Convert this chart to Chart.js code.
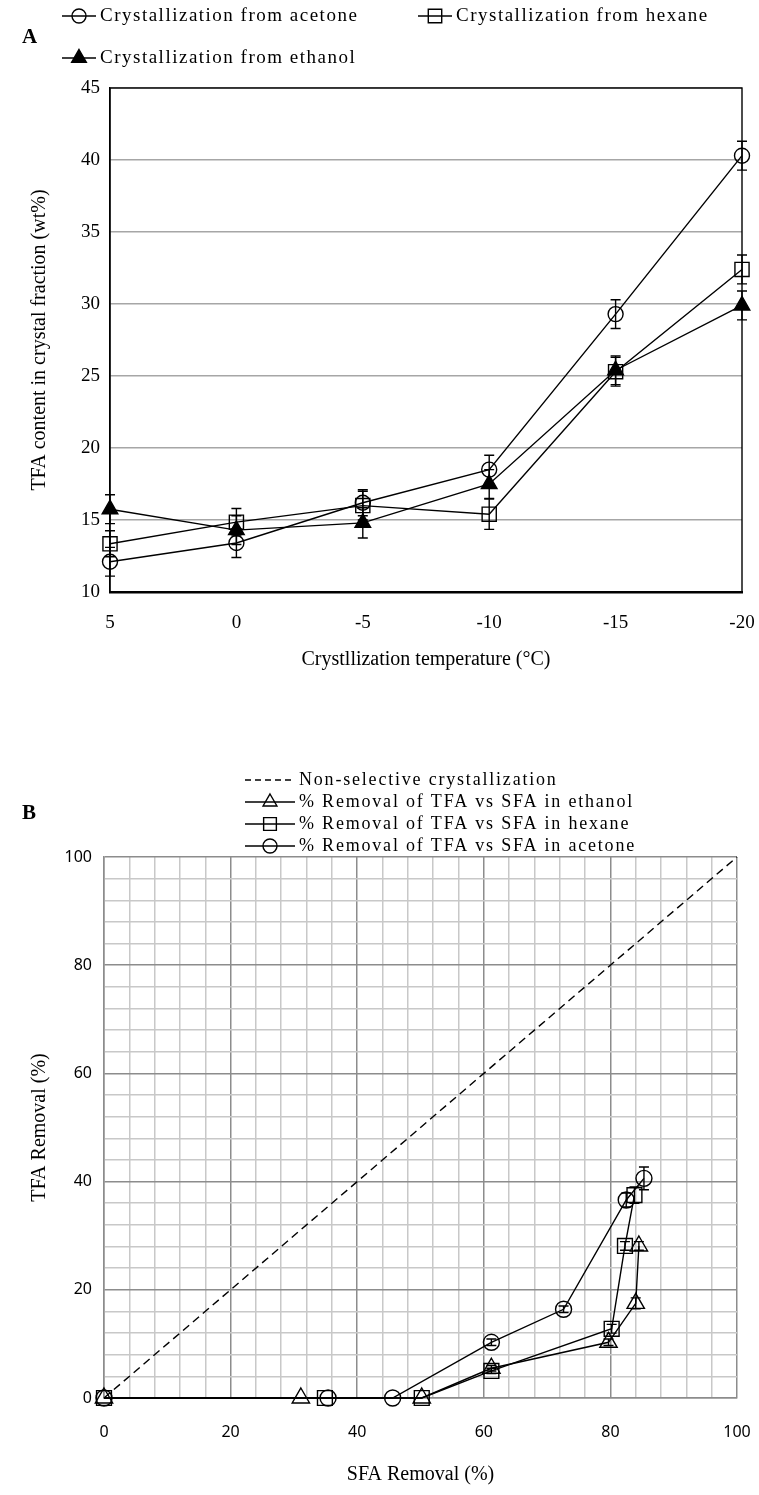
<!DOCTYPE html>
<html lang="en">
<head>
<meta charset="UTF-8">
<title>TFA crystallization</title>
<script src="https://cdn.jsdelivr.net/npm/chart.js@4.4.0/dist/chart.umd.min.js"></script>
<style>
  body { margin: 0; background: #fff; width: 759px; height: 1495px; position: relative; overflow: hidden; }
  .box { position: absolute; left: 0; width: 759px; }
  #boxA { top: 0; height: 700px; }
  #boxB { top: 740px; height: 755px; }
</style>
</head>
<body>
<div class="box" id="boxA"><canvas id="chartA"></canvas></div>
<div class="box" id="boxB"><canvas id="chartB"></canvas></div>
<script>
// panel A: TFA content vs crystallization temperature
const tempLabels = ['5', '0', '-5', '-10', '-15', '-20'];
const acetoneTFA = [12.1, 13.4, 16.2, 18.5, 29.3, 40.3];
const acetoneErr = [1.0, 1.0, 0.9, 1.0, 1.0, 1.0];
const hexaneTFA = [13.35, 14.85, 16.0, 15.4, 25.3, 32.4];
const hexaneErr = [0.9, 0.95, 1.0, 1.05, 1.0, 1.0];
const ethanolTFA = [15.75, 14.3, 14.8, 17.5, 25.4, 29.9];
const ethanolErr = [1.0, 1.0, 1.05, 1.0, 1.0, 1.0];

// panel B: TFA removal vs SFA removal
const nonSelX = [0, 100];
const nonSelY = [0, 100];
const ethanolSFA = [0, 31.1, 50.2, 61.2, 79.7, 84.0, 84.5];
const ethanolRem = [0, 0, 0, 5.5, 10.3, 17.5, 28.1];
const ethanolRemErr = [0, 0, 0, 0.5, 0.6, 1.0, 0.8];
const hexaneSFA = [0, 34.9, 50.2, 61.2, 80.2, 82.3, 83.8];
const hexaneRem = [0, 0, 0, 5.0, 12.8, 28.1, 37.5];
const hexaneRemErr = [0, 0, 0, 0.5, 0.8, 0.8, 1.5];
const acetoneSFA = [0, 35.4, 45.6, 61.2, 72.6, 82.5, 85.3];
const acetoneRem = [0, 0, 0, 10.3, 16.4, 36.6, 40.6];
const acetoneRemErr = [0, 0, 0, 0.6, 0.6, 1.3, 2.1];

const serif = "'Liberation Serif', 'Times New Roman', serif";
const sans = "'Noto Sans', 'Open Sans', sans-serif";

function drawMarker(ctx, style, x, y, r, filled) {
  ctx.beginPath();
  if (style === 'circle') {
    ctx.arc(x, y, r, 0, Math.PI * 2);
  } else if (style === 'rect') {
    const s = r * Math.SQRT1_2;
    ctx.rect(x - s, y - s, 2 * s, 2 * s);
  } else if (style === 'triangle') {
    ctx.moveTo(x, y - r);
    ctx.lineTo(x + r * 0.866, y + r / 2);
    ctx.lineTo(x - r * 0.866, y + r / 2);
    ctx.closePath();
  }
  if (filled) ctx.fill();
  ctx.stroke();
}

// vertical error bars from dataset.errors
const errorBars = {
  id: 'errorBars',
  afterDatasetsDraw(chart) {
    const ctx = chart.ctx;
    const yScale = chart.scales.y;
    chart.data.datasets.forEach((ds, i) => {
      if (!ds.errors) return;
      const meta = chart.getDatasetMeta(i);
      ctx.save();
      ctx.strokeStyle = '#000';
      ctx.lineWidth = 1.4;
      meta.data.forEach((pt, j) => {
        const e = ds.errors[j];
        if (!e) return;
        const v = meta.controller.getParsed(j).y;
        const y1 = yScale.getPixelForValue(v + e);
        const y2 = yScale.getPixelForValue(v - e);
        const cap = 5;
        ctx.beginPath();
        ctx.moveTo(pt.x, y1); ctx.lineTo(pt.x, y2);
        ctx.moveTo(pt.x - cap, y1); ctx.lineTo(pt.x + cap, y1);
        ctx.moveTo(pt.x - cap, y2); ctx.lineTo(pt.x + cap, y2);
        ctx.stroke();
      });
      ctx.restore();
    });
  }
};

// black box round the plot area
const frame = {
  id: 'frame',
  afterDraw(chart, args, opts) {
    if (!opts.color) return;
    const a = chart.chartArea;
    const ctx = chart.ctx;
    ctx.save();
    ctx.strokeStyle = opts.color;
    ctx.lineWidth = opts.width || 1;
    ctx.strokeRect(a.left, a.top, a.right - a.left, a.bottom - a.top);
    ctx.restore();
  }
};

// legend rows: short line with the marker, then the text
const rowLegend = {
  id: 'rowLegend',
  afterDraw(chart, args, opts) {
    if (!opts.items) return;
    const ctx = chart.ctx;
    ctx.save();
    ctx.font = opts.font;
    ctx.letterSpacing = opts.spacing || '0px';
    ctx.textBaseline = 'middle';
    ctx.fillStyle = '#000';
    ctx.strokeStyle = '#000';
    opts.items.forEach(it => {
      ctx.lineWidth = 1.4;
      ctx.setLineDash(it.dash || []);
      ctx.beginPath();
      ctx.moveTo(it.x, it.y);
      ctx.lineTo(it.x + it.len, it.y);
      ctx.stroke();
      ctx.setLineDash([]);
      if (it.style) drawMarker(ctx, it.style, it.x + it.len / 2, it.y, it.r, it.filled);
      ctx.fillText(it.text, it.x + it.len + 4, it.y);
    });
    if (opts.tag) {
      ctx.letterSpacing = '0px';
      ctx.font = 'bold 21px ' + serif;
      ctx.fillText(opts.tag.text, opts.tag.x, opts.tag.y);
    }
    ctx.restore();
  }
};

function series(label, data, errors, style, r, filled) {
  return {
    label: label,
    data: data,
    errors: errors,
    borderColor: '#000',
    borderWidth: 1.4,
    pointStyle: style,
    pointRadius: r,
    pointBorderColor: '#000',
    pointBorderWidth: 1.4,
    pointBackgroundColor: filled ? '#000' : 'rgba(0,0,0,0)',
    showLine: true,
    tension: 0,
    clip: false
  };
}

new Chart(document.getElementById('chartA'), {
  type: 'line',
  data: {
    labels: tempLabels,
    datasets: [
      series('Crystallization from acetone', acetoneTFA, acetoneErr, 'circle', 7.5, false),
      series('Crystallization from hexane', hexaneTFA, hexaneErr, 'rect', 10, false),
      series('Crystallization from ethanol', ethanolTFA, ethanolErr, 'triangle', 9, true)
    ]
  },
  options: {
    responsive: true,
    maintainAspectRatio: false,
    animation: false,
    layout: { padding: { top: 88, right: 17, left: 0, bottom: 0 } },
    plugins: {
      legend: { display: false },
      tooltip: { enabled: false },
      frame: { color: '#000', width: 1.4 },
      rowLegend: {
        font: '19px ' + serif,
        spacing: '1.5px',
        tag: { text: 'A', x: 22, y: 38 },
        items: [
          { x: 62, y: 16, len: 34, style: 'circle', r: 7, text: 'Crystallization from acetone' },
          { x: 418, y: 16, len: 34, style: 'rect', r: 9.5, text: 'Crystallization from hexane' },
          { x: 62, y: 58, len: 34, style: 'triangle', r: 8.5, filled: true, text: 'Crystallization from ethanol' }
        ]
      }
    },
    scales: {
      x: {
        type: 'category',
        offset: false,
        grid: { drawOnChartArea: false, drawTicks: true, tickLength: 20, tickColor: 'rgba(0,0,0,0)' },
        border: { color: '#000', width: 2.5 },
        ticks: { color: '#000', font: { family: serif, size: 19 }, padding: 0 },
        title: {
          display: true, text: 'Crystllization temperature (°C)', color: '#000',
          font: { family: serif, size: 20 }, padding: { top: 0, bottom: 28 }
        },
        afterFit(s) { s.height = 108; }
      },
      y: {
        min: 10,
        max: 45,
        ticks: { stepSize: 5, color: '#000', font: { family: serif, size: 19 }, padding: 10 },
        grid: { color: '#a6a6a6', lineWidth: 1.5, drawTicks: false },
        border: { color: '#000', width: 1.4 },
        title: {
          display: true, text: 'TFA content in crystal fraction (wt%)', color: '#000',
          font: { family: serif, size: 20 }, padding: { top: 28, bottom: 0 }
        },
        afterFit(s) { s.width = 110; }
      }
    }
  },
  plugins: [errorBars, frame, rowLegend]
});

function pts(xs, ys) {
  return xs.map((x, i) => ({ x: x, y: ys[i] }));
}

const minorGrid = (ctx) => (ctx.tick && ctx.tick.value % 20 === 0) ? '#8c8c8c' : '#c8c8c8';

new Chart(document.getElementById('chartB'), {
  type: 'scatter',
  data: {
    datasets: [
      {
        label: 'Non-selective crystallization',
        data: pts(nonSelX, nonSelY),
        borderColor: '#000',
        borderWidth: 1.4,
        borderDash: [8, 5],
        pointRadius: 0,
        showLine: true,
        clip: false
      },
      series('% Removal of TFA vs SFA in ethanol', pts(ethanolSFA, ethanolRem), ethanolRemErr, 'triangle', 10, false),
      series('% Removal of TFA vs SFA in hexane', pts(hexaneSFA, hexaneRem), hexaneRemErr, 'rect', 10.5, false),
      series('% Removal of TFA vs SFA in acetone', pts(acetoneSFA, acetoneRem), acetoneRemErr, 'circle', 8, false)
    ]
  },
  options: {
    responsive: true,
    maintainAspectRatio: false,
    animation: false,
    layout: { padding: { top: 117, right: 22, left: 0, bottom: 0 } },
    plugins: {
      legend: { display: false },
      tooltip: { enabled: false },
      rowLegend: {
        font: '18px ' + serif,
        spacing: '1.8px',
        tag: { text: 'B', x: 22, y: 74 },
        items: [
          { x: 245, y: 40, len: 50, dash: [6, 4], text: 'Non-selective crystallization' },
          { x: 245, y: 62, len: 50, style: 'triangle', r: 8, text: '% Removal of TFA vs SFA in ethanol' },
          { x: 245, y: 84, len: 50, style: 'rect', r: 9, text: '% Removal of TFA vs SFA in hexane' },
          { x: 245, y: 106, len: 50, style: 'circle', r: 7, text: '% Removal of TFA vs SFA in acetone' }
        ]
      }
    },
    scales: {
      x: {
        type: 'linear',
        min: 0,
        max: 100,
        ticks: {
          stepSize: 4, autoSkip: false, maxRotation: 0, color: '#000', padding: 0,
          font: { family: sans, size: 16 },
          callback: (v) => (v % 20 === 0 ? v : '')
        },
        grid: { color: minorGrid, lineWidth: 1.5, drawTicks: true, tickLength: 25, tickColor: 'rgba(0,0,0,0)' },
        border: { color: '#8c8c8c', width: 1.5 },
        title: {
          display: true, text: 'SFA Removal (%)', color: '#000',
          font: { family: serif, size: 20 }, padding: { top: 0, bottom: 8 }
        },
        afterFit(s) { s.height = 97; }
      },
      y: {
        type: 'linear',
        min: 0,
        max: 100,
        ticks: {
          stepSize: 4, autoSkip: false, color: '#000', padding: 12,
          font: { family: sans, size: 16 },
          callback: (v) => (v % 20 === 0 ? v : '')
        },
        grid: { color: minorGrid, lineWidth: 1.5, drawTicks: false },
        border: { color: '#8c8c8c', width: 1.5 },
        title: {
          display: true, text: 'TFA Removal (%)', color: '#000',
          font: { family: serif, size: 20 }, padding: { top: 28, bottom: 0 }
        },
        afterFit(s) { s.width = 104; }
      }
    }
  },
  plugins: [errorBars, rowLegend]
});
</script>
</body>
</html>
